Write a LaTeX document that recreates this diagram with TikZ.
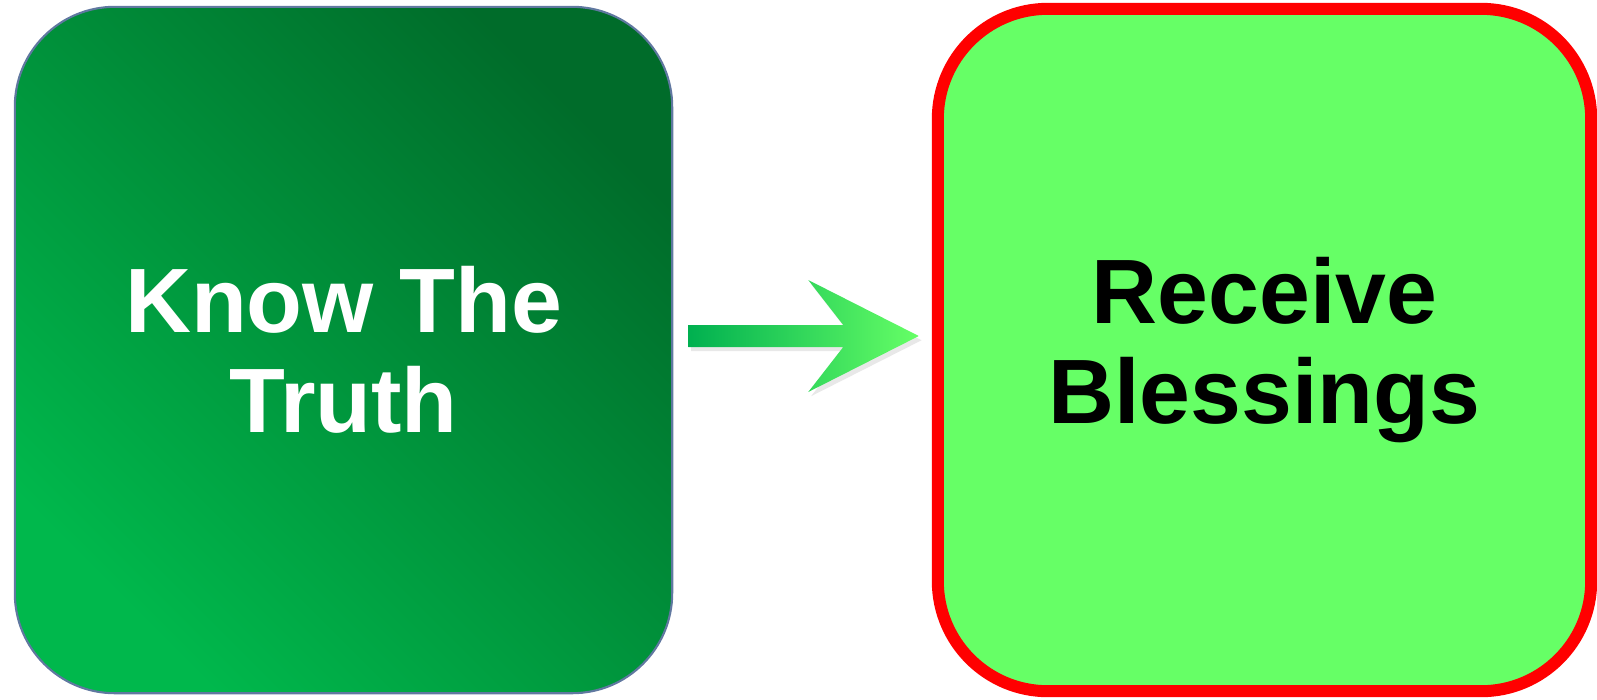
\documentclass[tikz,border=0pt]{standalone}
\usepackage{fontspec}
\setmainfont{Liberation Sans}
\usetikzlibrary{calc,shadows}
\definecolor{truthdark}{RGB}{0,108,42}
\definecolor{truthlight}{RGB}{0,184,76}
\definecolor{truthline}{RGB}{96,120,160}
\definecolor{blessfill}{RGB}{102,255,102}
\definecolor{arrowdark}{RGB}{0,176,80}

\begin{document}
\begin{tikzpicture}[x=0.01cm,y=-0.01cm,
  bigtext/.style={font=\fontsize{26}{28.5}\selectfont\bfseries,align=center,inner sep=0pt},
  truthbox/.style={bigtext,text=white,minimum width=6.57cm,minimum height=6.86cm,rounded corners=1cm,
    draw=truthline,line width=0.6pt,top color=truthdark,bottom color=truthlight,shading angle=-45},
  blessbox/.style={bigtext,text=black,minimum width=6.53cm,minimum height=6.82cm,rounded corners=1.1cm,
    draw=red,line width=0.12cm,fill=blessfill}]
\useasboundingbox (0,0) rectangle (1597,699);
\node[truthbox] (know) at (343.5,350) {Know The\\Truth};
\node[blessbox] (bless) at (1264.5,350) {Receive\\Blessings};
\draw[draw=none,left color=arrowdark,right color=blessfill,
      drop shadow={opacity=0.18,shadow xshift=0.8pt,shadow yshift=-1.2pt}]
  ($(know.east)+(15,-25)$) -- ($(know.east)+(170,-25)$) -- ($(know.east)+(135,-70)$)
  -- ($(bless.west)+(-13,-14)$) -- ($(know.east)+(135,42)$) -- ($(know.east)+(170,-3)$)
  -- ($(know.east)+(15,-3)$) -- cycle;
\end{tikzpicture}
\end{document}
